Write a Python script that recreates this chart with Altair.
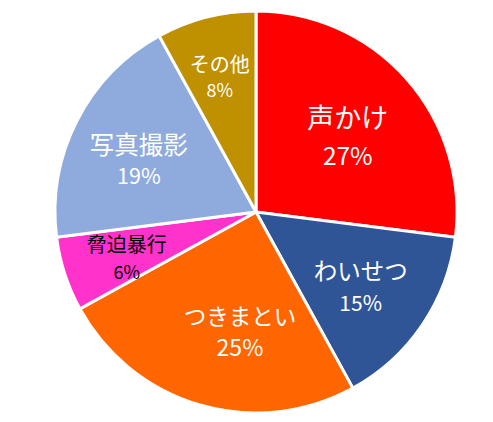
import altair as alt
import pandas as pd

categories = ["声かけ", "わいせつ", "つきまとい", "脅迫暴行", "写真撮影", "その他"]
percents = [27, 15, 25, 6, 19, 8]
colors = ["#FF0000", "#2F5597", "#FF6600", "#FF33CC", "#8FAADC", "#BF9000"]

df = pd.DataFrame({
    "cat": categories,
    "pct": percents,
    "idx": list(range(len(categories))),
})
df["label"] = df["pct"].astype(str) + "%"

FONT = "Noto Sans CJK JP"
CX, CY = 248, 204

# label layout per slice: radius, dx, name dy, pct dy, name size, pct size, colour
label_style = {
    "声かけ":   dict(r=117, dx=4,   ndy=-15, pdy=23, ns=27,   ps=24.5, c="white"),
    "わいせつ": dict(r=129, dx=-2,  ndy=-12, pdy=20, ns=23.5, ps=21,   c="white"),
    "つきまとい": dict(r=122, dx=18, ndy=-11, pdy=20, ns=22.5, ps=23,   c="white"),
    "脅迫暴行": dict(r=138, dx=2,   ndy=-9,  pdy=19, ns=20,   ps=18,   c="black"),
    "写真撮影": dict(r=127, dx=-4,  ndy=-7,  pdy=24, ns=24.5, ps=21.5, c="white"),
    "その他":   dict(r=138, dx=-2,  ndy=-12, pdy=14, ns=20,   ps=18,   c="white"),
}

base = alt.Chart(df).encode(
    theta=alt.Theta("pct:Q", stack=True),
    order=alt.Order("idx:Q", sort="ascending"),
    x=alt.value(CX),
    y=alt.value(CY),
)

arcs = base.mark_arc(outerRadius=201, stroke="white", strokeWidth=3).encode(
    color=alt.Color("cat:N", scale=alt.Scale(domain=categories, range=colors), legend=None)
)


def text_layer(field, cat, radius, dx, dy, size, color):
    return base.mark_text(
        radius=radius, dx=dx, dy=dy, fontSize=size, font=FONT, color=color,
        align="center", baseline="middle",
    ).encode(
        text=alt.condition(
            alt.FieldEqualPredicate(field="cat", equal=cat),
            alt.Text(f"{field}:N"),
            alt.value(""),
        )
    )


layers = [arcs]
for cat in categories:
    s = label_style[cat]
    layers.append(text_layer("cat", cat, s["r"], s["dx"], s["ndy"], s["ns"], s["c"]))
    layers.append(text_layer("label", cat, s["r"], s["dx"], s["pdy"], s["ps"], s["c"]))

chart = alt.layer(*layers).properties(
    width=477, height=406, padding=0, autosize=alt.AutoSizeParams(type="none")
).configure_view(stroke=None)

chart.save("out.html", embed_options={"renderer": "svg", "actions": False})
